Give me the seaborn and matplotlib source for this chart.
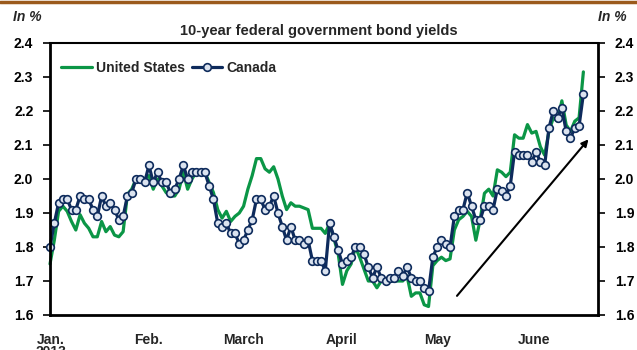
import matplotlib
matplotlib.use("Agg")
import matplotlib.pyplot as plt
import seaborn as sns
import numpy as np
import pandas as pd

# daily 10-year yields, Jan 2 2013 onwards
us = [1.75, 1.82, 1.905, 1.92, 1.905, 1.875, 1.85, 1.895, 1.87, 1.855, 1.83, 1.83, 1.875, 1.845, 1.86, 1.835, 1.83, 1.845, 1.955,
      1.97, 2.00, 2.00, 2.00, 2.01, 1.97, 2.00, 1.98, 1.96, 1.95, 1.95, 1.97, 2.02, 1.97, 2.00, 2.02, 2.02, 2.02,
      1.99, 1.96, 1.91, 1.885, 1.905, 1.875, 1.89, 1.90, 1.92, 1.97, 2.01,
      2.06, 2.06, 2.03, 2.02, 2.036, 2.00, 1.95, 1.91, 1.93,
      1.92, 1.92, 1.915, 1.91,
      1.855, 1.855, 1.855, 1.84, 1.87, 1.825, 1.78, 1.69, 1.73, 1.75, 1.80,
      1.77, 1.735, 1.70, 1.70, 1.68, 1.70, 1.70, 1.70, 1.70,
      1.70, 1.70, 1.715, 1.655, 1.665, 1.665, 1.63, 1.625,
      1.745, 1.76, 1.77, 1.76, 1.765, 1.85, 1.88, 1.89, 1.905, 1.89,
      1.82, 1.88, 1.958, 1.97, 1.95, 2.027, 2.02, 2.007, 2.02,
      2.13, 2.12, 2.12, 2.16, 2.135, 2.14, 2.095, 2.07, 2.14, 2.18, 2.17, 2.23, 2.159, 2.14, 2.17, 2.18, 2.315]

canada = [1.80, 1.87, 1.93, 1.94, 1.94, 1.91, 1.91, 1.95, 1.94, 1.94, 1.91, 1.89, 1.95, 1.92, 1.93, 1.91, 1.88, 1.89, 1.95, 1.96,
          2.00, 2.00, 1.99, 2.04, 1.99, 2.02, 1.99, 1.99, 1.96, 1.97, 2.00, 2.04, 2.00, 2.02, 2.02, 2.02, 2.02, 1.98, 1.94, 1.87,
          1.86, 1.87, 1.84, 1.84, 1.81, 1.82, 1.85, 1.88,
          1.94, 1.94, 1.91, 1.92, 1.95, 1.90, 1.86, 1.82, 1.86,
          1.82, 1.82, 1.81, 1.82, 1.76, 1.76, 1.76, 1.73, 1.87, 1.83, 1.79, 1.75, 1.76, 1.77, 1.80, 1.80,
          1.78, 1.74, 1.71, 1.74, 1.71, 1.70, 1.71, 1.71, 1.73, 1.715, 1.74, 1.71, 1.70, 1.70, 1.68, 1.67,
          1.77, 1.80, 1.82, 1.81, 1.80, 1.89, 1.91, 1.91, 1.96, 1.92, 1.88, 1.88, 1.92, 1.92, 1.91, 1.97, 1.965, 1.95, 1.98,
          2.08, 2.07, 2.07, 2.07, 2.05, 2.08, 2.05, 2.04, 2.15, 2.20, 2.18, 2.21, 2.14, 2.12, 2.15, 2.156, 2.25]

month_labels = ["Jan.\n2013", "Feb.", "March", "April", "May", "June"]
month_pos = [0.2, 22.8, 44.9, 67.7, 90.2, 112.6]
yticks = [1.6, 1.7, 1.8, 1.9, 2.0, 2.1, 2.2, 2.3, 2.4]

green = "#0b9646"
navy = "#0e2b5c"

df = pd.DataFrame({"day": np.arange(len(us)), "United States": us, "Canada": canada})

sns.set_style("white")
plt.rcParams["font.family"] = ["Liberation Sans", "DejaVu Sans"]
plt.rcParams["font.weight"] = "bold"

fig = plt.figure(figsize=(6.37, 3.5), dpi=100)
ax = fig.add_axes([50 / 637, 35 / 350, 548 / 637, 272 / 350])

sns.lineplot(data=df, x="day", y="United States", ax=ax, color=green, lw=2.3,
             label="United States", clip_on=False)
sns.lineplot(data=df, x="day", y="Canada", ax=ax, color=navy, lw=2.3,
             marker="o", markersize=5.5, markerfacecolor="#dbe3ef", markeredgecolor=navy,
             markeredgewidth=1.2, label="Canada", clip_on=False)

ax.set_xlim(0, 127.4)
ax.set_ylim(1.6, 2.4)
ax.set_yticks(yticks)
ax.set_yticklabels([f"{v:.1f}" for v in yticks])
ax.set_xticks(month_pos)
ax.set_xticklabels(month_labels, fontsize=10, fontweight="bold", va="top", linespacing=0.85)
ax.tick_params(axis="x", length=0, pad=13)
ax.tick_params(axis="y", which="both", left=True, right=True, labelleft=True, labelright=True,
               length=5, width=1.2, direction="out", labelsize=10, pad=7, colors="black")
for t in ax.get_yticklabels():
    t.set_fontweight("bold")
ax.set_xlabel("")
ax.set_ylabel("")

for side in ["left", "right", "bottom", "top"]:
    ax.spines[side].set_visible(True)
    ax.spines[side].set_color("black")
ax.spines["left"].set_linewidth(2)
ax.spines["right"].set_linewidth(2)
ax.spines["bottom"].set_linewidth(2)
ax.spines["top"].set_linewidth(1.5)

ax.annotate("", xy=(125.6, 2.123), xytext=(94.2, 1.65),
            arrowprops=dict(arrowstyle="-|>", color="black", lw=1.5, mutation_scale=10))

leg = ax.legend(loc="upper left", bbox_to_anchor=(0.0, 0.975), frameon=False, ncol=2,
                fontsize=10, handlelength=2.2, columnspacing=0.5, handletextpad=0.3,
                borderaxespad=0.4)
for t in leg.get_texts():
    t.set_fontweight("bold")

fig.text(0.5, 1 - 31 / 350, "10-year federal government bond yields", ha="center", va="center",
         fontsize=10.5, fontweight="bold")
fig.text(27 / 637, 1 - 17 / 350, "In %", ha="center", va="center", fontsize=10,
         fontweight="bold", style="italic")
fig.text(612 / 637, 1 - 17 / 350, "In %", ha="center", va="center", fontsize=10,
         fontweight="bold", style="italic")
fig.add_artist(plt.Line2D([0, 1], [1 - 1.5 / 350, 1 - 1.5 / 350], color="#9b5a1c", lw=2.5,
                          transform=fig.transFigure))

fig.savefig("out.png", dpi=100)
